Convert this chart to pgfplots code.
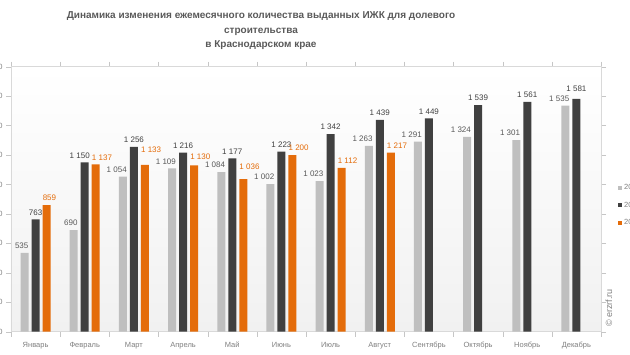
\documentclass[border=0pt]{standalone}
\usepackage{pgfplots}
\pgfplotsset{compat=1.18}
\usepackage{fontspec}
\setmainfont{Liberation Sans}
\definecolor{cg}{HTML}{BFBFBF}
\definecolor{cd}{HTML}{404040}
\definecolor{co}{HTML}{E46C0A}
\definecolor{txt}{HTML}{595959}
\definecolor{lab}{HTML}{7F7F7F}
\begin{document}
\begin{tikzpicture}[x=1pt,y=1pt]
\path[use as bounding box] (-11,-23.3) rectangle (619,331.7);
\clip (-11,-23.3) rectangle (619,331.7);
\begin{axis}[
  at={(0,0)}, anchor=south west,
  scale only axis, width=590pt, height=265pt,
  xmin=-0.5, xmax=11.5, ymin=0, ymax=1800,
  ybar, bar width=8pt,
  xtick={-0.5,0.5,1.5,2.5,3.5,4.5,5.5,6.5,7.5,8.5,9.5,10.5,11.5},
  x tick label as interval,
  xticklabels={Январь,Февраль,Март,Апрель,Май,Июнь,Июль,Август,Сентябрь,Октябрь,Ноябрь,Декабрь},
  ytick={0,200,...,1800},
  tick align=outside,
  major tick length=5pt,
  tick style={draw=gray!45},
  axis line style={draw=gray!30},
  axis background/.style={top color=white, bottom color=gray!11},
  ticklabel style={font=\fontsize{7.5}{8}\selectfont, text=lab},
  xticklabel style={yshift=-2pt},
  /pgf/number format/.cd, 1000 sep={\ }, assume math mode=true, /pgfplots/.cd,
  nodes near coords,
  every node near coord/.append style={font=\fontsize{8}{9}\selectfont, inner sep=0pt},
  legend image code/.code={\draw[#1,draw=none] (0pt,-2pt) rectangle (4pt,2pt);},
  legend style={at={(axis description cs:1.0288,0.565)}, anchor=north west, draw=none, fill=none,
    font=\fontsize{7.5}{8}\selectfont, text=lab, row sep=7pt, inner sep=0pt},
  legend cell align=left,
]
\addplot[fill=cg, draw=none, bar shift=-11pt,
  every node near coord/.append style={anchor=south east, xshift=4pt, yshift=4pt, text=txt}]
  coordinates {(0,535) (1,690) (2,1054) (3,1109) (4,1084) (5,1002) (6,1023) (7,1263) (8,1291) (9,1324) (10,1301) (11,1535)};
\addplot[fill=cd, draw=none, bar shift=0pt,
  every node near coord/.append style={anchor=south, yshift=4pt, text=cd},
  coordinate style/.condition={x==1}{xshift=-5pt},
  coordinate style/.condition={x==11}{yshift=3pt}]
  coordinates {(0,763) (1,1150) (2,1256) (3,1216) (4,1177) (5,1223) (6,1342) (7,1439) (8,1449) (9,1539) (10,1561) (11,1581)};
\addplot[fill=co, draw=none, bar shift=11pt,
  every node near coord/.append style={anchor=south west, xshift=-4pt, yshift=4pt, text=co},
  coordinate style/.condition={x==2}{yshift=8pt},
  coordinate style/.condition={x==3}{yshift=2pt},
  coordinate style/.condition={x==4}{yshift=5pt}]
  coordinates {(0,859) (1,1137) (2,1133) (3,1130) (4,1036) (5,1200) (6,1112) (7,1217)};
\legend{2021,2022,2023}
\end{axis}
\node[font=\bfseries\fontsize{10}{14.5}\selectfont, text=txt, align=center] at (250,300.7)
  {Динамика изменения ежемесячного количества выданных ИЖК для долевого\\строительства\\в Краснодарском крае};
\node[rotate=90, font=\fontsize{9}{10}\selectfont, text=lab] at (598,23.7) {© erzrf.ru};
\end{tikzpicture}
\end{document}
